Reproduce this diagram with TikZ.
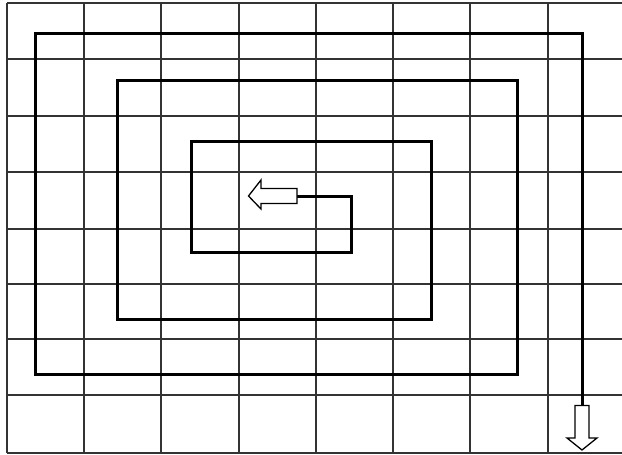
\documentclass[tikz,border=0pt]{standalone}
\begin{document}
\begin{tikzpicture}[x=1pt,y=-1pt,
  gridline/.style={line width=1.1pt, black!80},
  spiral/.style={line width=3pt, line join=miter},
  blockarrow/.style={draw, line width=1.3pt, fill=white, line join=miter}]
\fill[white] (0,0) rectangle (622,455);
\useasboundingbox (0,0) rectangle (622,455);
\foreach \x in {7,84,161,239,316,393,470,548,626} \draw[gridline] (\x,3) -- (\x,453);
\foreach \y in {3,59,116,172,229,284,339,395,453} \draw[gridline] (7,\y) -- (626,\y);
\coordinate (s0) at (582,406);
\coordinate (s1) at (582,33);
\coordinate (s2) at (35,33);
\coordinate (s3) at (35,374);
\coordinate (s4) at (517,374);
\coordinate (s5) at (517,80);
\coordinate (s6) at (117,80);
\coordinate (s7) at (117,319);
\coordinate (s8) at (431,319);
\coordinate (s9) at (431,141);
\coordinate (s10) at (191,141);
\coordinate (s11) at (191,252);
\coordinate (s12) at (351,252);
\coordinate (s13) at (351,196);
\coordinate (s14) at (297,196);
\draw[spiral] (s0) -- (s1) -- (s2) -- (s3) -- (s4) -- (s5) -- (s6) -- (s7) -- (s8) -- (s9) -- (s10) -- (s11) -- (s12) -- (s13) -- (s14);
% center block arrow pointing left
\draw[blockarrow] (297,188.5) -- (261,188.5) -- (261,180) -- (248.5,196) -- (261,209) -- (261,203.5) -- (297,203.5) -- cycle;
% bottom block arrow pointing down
\draw[blockarrow] (575,405.5) -- (589,405.5) -- (589,438) -- (597,438) -- (582,450) -- (567,438) -- (575,438) -- cycle;
\end{tikzpicture}
\end{document}
